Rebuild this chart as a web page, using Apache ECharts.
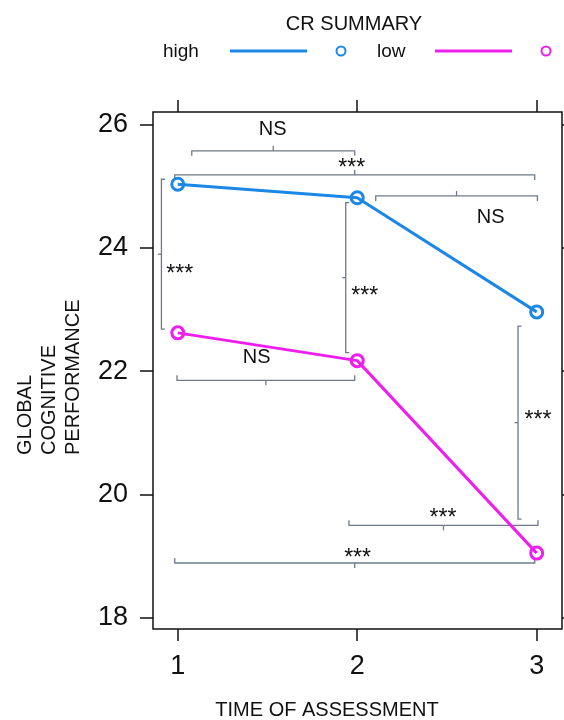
<!DOCTYPE html>
<html>
<head>
<meta charset="utf-8">
<script src="https://cdn.jsdelivr.net/npm/echarts@6/dist/echarts.min.js"></script>
<style>
  html, body { margin: 0; padding: 0; background: #fff; }
  #chart { width: 564px; height: 720px; }
</style>
</head>
<body>
<div id="chart"></div>
<script>
// time of assessment and mean scores per CR group
const times = [1, 2, 3];
const highValues = [25.03, 24.81, 22.96];
const lowValues = [22.62, 22.17, 19.05];
const xTicks = [1, 2, 3];
const yTicks = [18, 20, 22, 24, 26];

// significance brackets, in data units: orientation, from, to, at, label, label x, label y
const bracketOrient = ['h', 'h', 'h', 'v', 'v', 'h', 'v', 'h', 'h'];
const bracketFrom = [1.078, 0.983, 2.103, 25.11, 24.73, 0.996, 22.73, 1.954, 0.983];
const bracketTo = [1.986, 2.989, 3.004, 22.68, 22.30, 1.986, 19.60, 3.007, 2.989];
const bracketAt = [25.57, 25.18, 24.84, 0.909, 1.936, 21.85, 2.896, 19.50, 18.89];
const bracketLabels = ['NS', '***', 'NS', '***', '***', 'NS', '***', '***', '***'];
const labelX = [1.529, 1.969, 2.744, 1.011, 2.042, 1.440, 3.007, 2.478, 2.002];
const labelY = [25.91, 25.38, 24.49, 23.66, 23.31, 22.22, 21.29, 19.70, 19.05];
// ends point down for top brackets, up for bottom ones
const bracketEnd = [1, 1, 1, 1, 1, -1, 1, -1, -1];

const BLUE = '#1b87e6';
const MAGENTA = '#ee1fee';
const GREY = '#6f7989';
const FONT = 'Liberation Sans, Arial, Helvetica, sans-serif';

const chart = echarts.init(document.getElementById('chart'));

function renderBracket(params, api) {
  const i = api.value(0);
  const tick = 5;
  const children = [];
  if (bracketOrient[i] === 'h') {
    const a = api.coord([bracketFrom[i], bracketAt[i]]);
    const b = api.coord([bracketTo[i], bracketAt[i]]);
    const d = tick * bracketEnd[i];
    const mx = (a[0] + b[0]) / 2;
    children.push({ type: 'polyline', shape: { points: [[a[0], a[1] + d], a, b, [b[0], b[1] + d]] },
      style: { stroke: GREY, lineWidth: 1.3, fill: null } });
    children.push({ type: 'line', shape: { x1: mx, y1: a[1], x2: mx, y2: a[1] - d },
      style: { stroke: GREY, lineWidth: 1.3 } });
  } else {
    const a = api.coord([bracketAt[i], bracketFrom[i]]);
    const b = api.coord([bracketAt[i], bracketTo[i]]);
    const my = (a[1] + b[1]) / 2;
    children.push({ type: 'polyline', shape: { points: [[a[0] + 3.5, a[1]], a, b, [b[0] + 3.5, b[1]]] },
      style: { stroke: GREY, lineWidth: 1.3, fill: null } });
    children.push({ type: 'line', shape: { x1: a[0], y1: my, x2: a[0] - 3.5, y2: my },
      style: { stroke: GREY, lineWidth: 1.3 } });
  }
  const t = api.coord([labelX[i], labelY[i]]);
  const stars = bracketLabels[i] === '***';
  children.push({ type: 'text', x: t[0], y: t[1] + (stars ? 6 : 0),
    style: { text: bracketLabels[i], align: 'center', verticalAlign: 'middle',
      font: (stars ? '23px ' : '20px ') + FONT, fill: '#111' } });
  return { type: 'group', children: children };
}

const option = {
  animation: false,
  backgroundColor: '#fff',
  grid: {
    left: 153, right: 2, top: 112, bottom: 91,
    show: true, borderColor: '#111', borderWidth: 1.5,
    outerBoundsMode: 'none'
  },
  xAxis: [
    {
      type: 'value', min: 0.862, max: 3.141, position: 'bottom',
      axisLine: { show: false },
      axisTick: { show: true, length: 12, customValues: xTicks, lineStyle: { color: '#111', width: 1.5 } },
      axisLabel: { customValues: xTicks, fontSize: 27, color: '#111', margin: 24, fontFamily: FONT },
      splitLine: { show: false }
    },
    {
      type: 'value', min: 0.862, max: 3.141, position: 'top',
      axisLine: { show: false },
      axisTick: { show: true, length: 12, customValues: xTicks, lineStyle: { color: '#111', width: 1.5 } },
      axisLabel: { show: false },
      splitLine: { show: false }
    }
  ],
  yAxis: [
    {
      type: 'value', min: 17.82, max: 26.2, position: 'left',
      axisLine: { show: false },
      axisTick: { show: true, length: 13, customValues: yTicks, lineStyle: { color: '#111', width: 1.5 } },
      axisLabel: { customValues: yTicks, fontSize: 27, color: '#111', margin: 25, fontFamily: FONT },
      splitLine: { show: false }
    },
    {
      type: 'value', min: 17.82, max: 26.2, position: 'right',
      axisLine: { show: false },
      axisTick: { show: true, length: 13, customValues: yTicks, lineStyle: { color: '#111', width: 1.5 } },
      axisLabel: { show: false },
      splitLine: { show: false }
    }
  ],
  graphic: [
    { type: 'text', x: 354, y: 24, style: { text: 'CR SUMMARY', font: '20px ' + FONT, fill: '#111', align: 'center', verticalAlign: 'middle' } },
    { type: 'text', x: 163, y: 52, style: { text: 'high', font: '19px ' + FONT, fill: '#111', align: 'left', verticalAlign: 'middle' } },
    { type: 'line', shape: { x1: 230, y1: 51, x2: 307, y2: 51 }, style: { stroke: BLUE, lineWidth: 3 } },
    { type: 'circle', shape: { cx: 341, cy: 51, r: 4.5 }, style: { stroke: BLUE, lineWidth: 2, fill: null } },
    { type: 'text', x: 377, y: 52, style: { text: 'low', font: '19px ' + FONT, fill: '#111', align: 'left', verticalAlign: 'middle' } },
    { type: 'line', shape: { x1: 435, y1: 51, x2: 512, y2: 51 }, style: { stroke: MAGENTA, lineWidth: 3 } },
    { type: 'circle', shape: { cx: 546, cy: 51, r: 4.5 }, style: { stroke: MAGENTA, lineWidth: 2, fill: null } },
    { type: 'text', x: 49, y: 455, rotation: Math.PI / 2,
      style: { text: 'GLOBAL\nCOGNITIVE\nPERFORMANCE', font: '20px ' + FONT, lineHeight: 24, fill: '#111', align: 'left', verticalAlign: 'middle' } },
    { type: 'text', x: 327, y: 710, style: { text: 'TIME OF ASSESSMENT', font: '20px ' + FONT, fill: '#111', align: 'center', verticalAlign: 'middle' } }
  ],
  series: [
    {
      type: 'custom', coordinateSystem: 'cartesian2d', renderItem: renderBracket,
      data: bracketLabels.map((l, i) => [i]), silent: true, z: 1,
      encode: { x: -1, y: -1 }
    },
    {
      name: 'high', type: 'line', data: times.map((t, i) => [t, highValues[i]]),
      symbol: 'circle', symbolSize: 12, z: 3,
      lineStyle: { color: BLUE, width: 3 },
      itemStyle: { color: 'rgba(0,0,0,0)', borderColor: BLUE, borderWidth: 3 }
    },
    {
      name: 'low', type: 'line', data: times.map((t, i) => [t, lowValues[i]]),
      symbol: 'circle', symbolSize: 12, z: 3,
      lineStyle: { color: MAGENTA, width: 3 },
      itemStyle: { color: 'rgba(0,0,0,0)', borderColor: MAGENTA, borderWidth: 3 }
    }
  ]
};
chart.setOption(option);
</script>
</body>
</html>
